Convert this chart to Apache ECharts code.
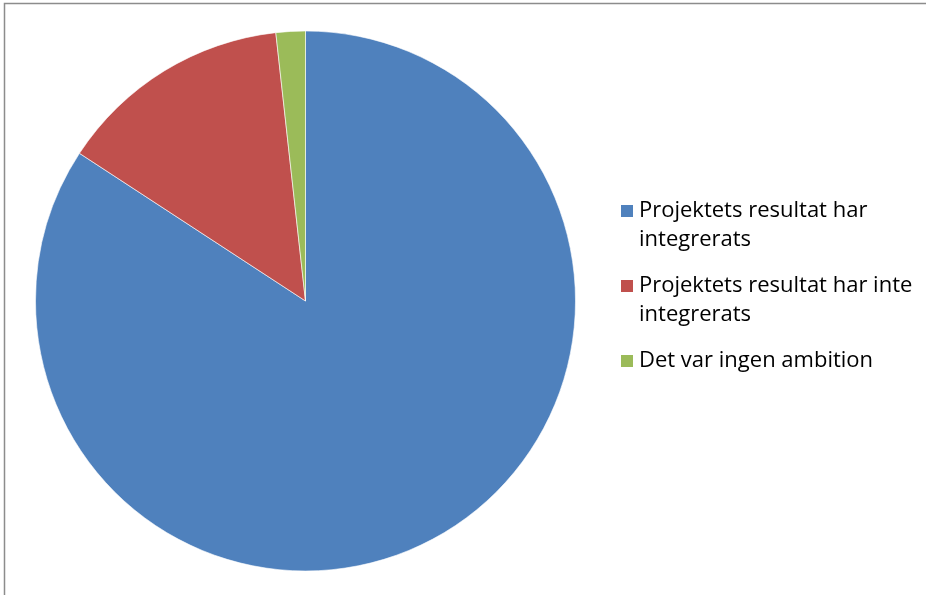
<!DOCTYPE html>
<html>
<head>
<meta charset="utf-8">
<script src="https://cdn.jsdelivr.net/npm/echarts@6/dist/echarts.min.js"></script>
<style>
  html, body { margin: 0; padding: 0; background: #fff; }
  #chart { width: 926px; height: 595px; }
</style>
</head>
<body>
<div id="chart"></div>
<script>
// Answer categories and their counts
const categories = [
  'Projektets resultat har integrerats',
  'Projektets resultat har inte integrerats',
  'Det var ingen ambition'
];
const counts = [48, 8, 1];
const colors = ['#4F81BD', '#C0504D', '#9BBB59'];

// Legend labels wrapped onto two lines where needed
const legendLines = {
  'Projektets resultat har integrerats': ['Projektets resultat har', 'integrerats'],
  'Projektets resultat har inte integrerats': ['Projektets resultat har inte', 'integrerats'],
  'Det var ingen ambition': ['Det var ingen ambition']
};

const LINE_H = 29;

// The legend centres its text block on the colour square, so each label is
// framed by blank lines to keep its first line level with the square.
function legendText(name) {
  const lines = legendLines[name];
  return ['', ...lines, ...(lines.length === 1 ? [''] : [])].join('\n');
}

const chart = echarts.init(document.getElementById('chart'), null, { renderer: 'canvas' });

chart.setOption({
  animation: false,
  color: colors,
  graphic: [{
    type: 'rect',
    shape: { x: 4.5, y: 3.5, width: 1000, height: 1000 },
    style: { fill: 'none', stroke: '#8c8c8c', lineWidth: 1.5 },
    silent: true
  }],
  legend: {
    orient: 'vertical',
    left: 619,
    top: 167.5,
    padding: 0,
    itemWidth: 14,
    itemHeight: 14,
    itemGap: -12,
    icon: 'rect',
    data: categories,
    formatter: legendText,
    textStyle: {
      fontFamily: 'Open Sans',
      fontSize: 22,
      lineHeight: LINE_H,
      color: '#000'
    }
  },
  series: [{
    type: 'pie',
    center: [305.5, 301],
    radius: 270,
    startAngle: 90,
    clockwise: true,
    label: { show: false },
    labelLine: { show: false },
    itemStyle: { borderColor: '#ffffff', borderWidth: 0.6 },
    data: categories.map((c, i) => ({ name: c, value: counts[i] }))
  }]
});
</script>
</body>
</html>
